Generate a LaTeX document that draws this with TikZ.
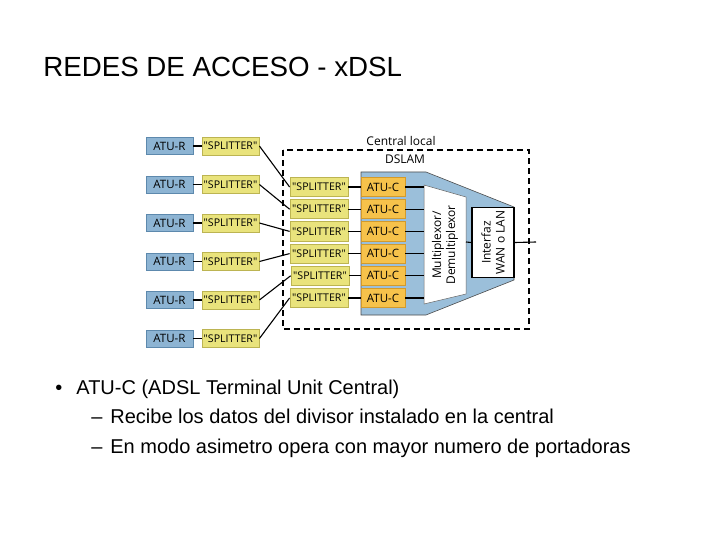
\documentclass[tikz,border=0pt]{standalone}
\usepackage{fontspec}
\setmainfont{Liberation Sans}
\newfontfamily\diagfont{Open Sans}
\definecolor{aturblue}{HTML}{8DB4D3}
\definecolor{aturdark}{HTML}{5D89AD}
\definecolor{splityellow}{HTML}{E9E37C}
\definecolor{splitdark}{HTML}{BCB452}
\definecolor{atucorange}{HTML}{F6C24B}
\definecolor{atucdark}{HTML}{D39A2A}
\definecolor{dslamblue}{HTML}{9BBFDA}
\tikzset{
every picture/.style={
line width=0.8pt
}}

\begin{document}
\begin{tikzpicture}[x=1pt, y=-1pt,
atur/.style = {rectangle, draw=aturdark, fill=aturblue, minimum width=47pt, minimum height=17pt, inner sep=0pt, font=\diagfont\fontsize{11.5}{13}\selectfont},
splitbox/.style = {rectangle, draw=splitdark, fill=splityellow, minimum width=57pt, minimum height=18pt, inner sep=0pt, font=\diagfont\fontsize{10.6}{12}\selectfont},
atuc/.style = {rectangle, draw=atucdark, fill=atucorange, minimum width=44pt, minimum height=19pt, inner sep=0pt, font=\diagfont\fontsize{11.5}{13}\selectfont},
wire/.style = {line width=1.1pt, black},
label/.style = {font=\diagfont\fontsize{12}{14}\selectfont},
bodytext/.style = {anchor=base west, inner sep=0pt, font=\fontsize{20}{24}\selectfont}]

\useasboundingbox (0,0) rectangle (720,540);

\node [anchor=base west, inner sep=0pt, font=\fontsize{27.7}{32}\selectfont] (title) at (43,77) {REDES DE ACCESO - xDSL};

% central local
\draw [dashed, line width=1.3pt, dash pattern=on 6pt off 4pt] (283,150) rectangle (529,329);
\node [label] (central) at (401,141) {Central local};
\node [label] (dslam) at (405,159) {DSLAM};

\draw [fill=dslamblue, draw=black!70, line width=0.6pt] (361,172) -- (426,172) -- (514,207)
-- (514,280) -- (426,315) -- (361,315) -- cycle;
\draw [fill=white, draw=black!60, line width=0.5pt] (424,185) -- (466,197) -- (466,294) -- (424,304) -- cycle;
\coordinate (muxl) at (424,245);
\coordinate (muxr) at (466,242);
\node [label, rotate=90, align=center, inner sep=0pt] (muxtext) at (445,245) {Multiplexor/\\Demultiplexor};

\node [draw=black, line width=1.4pt, fill=white, minimum width=42pt, minimum height=70pt, inner sep=0pt] (wan) at (493,242.5) {};
\node [label, rotate=90, align=center, inner sep=0pt] (wantext) at (wan) {Interfaz\\WAN o LAN};
\coordinate (out) at (536,242);

% abonados
\node [atur] (r1) at (169.5,146) {ATU-R};
\node [atur] (r2) at (169.5,184.5) {ATU-R};
\node [atur] (r3) at (169.5,223) {ATU-R};
\node [atur] (r4) at (169.5,261.5) {ATU-R};
\node [atur] (r5) at (169.5,300) {ATU-R};
\node [atur] (r6) at (169.5,338.5) {ATU-R};

\node [splitbox] (s1) at (230.5,146) {"SPLITTER"};
\node [splitbox] (s2) at (230.5,184.5) {"SPLITTER"};
\node [splitbox] (s3) at (230.5,223) {"SPLITTER"};
\node [splitbox] (s4) at (230.5,261.5) {"SPLITTER"};
\node [splitbox] (s5) at (230.5,300) {"SPLITTER"};
\node [splitbox] (s6) at (230.5,338.5) {"SPLITTER"};

\node [splitbox, minimum width=58pt, minimum height=19pt] (cs1) at (319,187) {"SPLITTER"};
\node [splitbox, minimum width=58pt, minimum height=19pt] (cs2) at (319,209.2) {"SPLITTER"};
\node [splitbox, minimum width=58pt, minimum height=19pt] (cs3) at (319,231.4) {"SPLITTER"};
\node [splitbox, minimum width=58pt, minimum height=19pt] (cs4) at (319,253.6) {"SPLITTER"};
\node [splitbox, minimum width=58pt, minimum height=19pt] (cs5) at (320,275.8) {"SPLITTER"};
\node [splitbox, minimum width=58pt, minimum height=19pt] (cs6) at (319,298) {"SPLITTER"};

\node [atuc] (c1) at (383,187) {ATU-C};
\node [atuc] (c2) at (383,209.2) {ATU-C};
\node [atuc] (c3) at (383,231.4) {ATU-C};
\node [atuc] (c4) at (383,253.6) {ATU-C};
\node [atuc] (c5) at (383,275.8) {ATU-C};
\node [atuc] (c6) at (383,298) {ATU-C};

\draw [wire] (r1) -- (s1); \draw [wire] (r2) -- (s2); \draw [wire] (r3) -- (s3);
\draw [wire] (r4) -- (s4); \draw [wire] (r5) -- (s5); \draw [wire] (r6) -- (s6);

\draw [wire] (s1.east) -- (cs1.west);
\draw [wire] (s2.east) -- (cs2.west);
\draw [wire] (s3.east) -- (cs3.west);
\draw [wire] (s4.east) -- (cs4.west);
\draw [wire] (s5.east) -- (cs5.west);
\draw [wire] (s6.east) -- (cs6.west);

\draw [wire] (cs1) -- (c1); \draw [wire] (cs2) -- (c2); \draw [wire] (cs3) -- (c3);
\draw [wire] (cs4) -- (c4); \draw [wire] (cs5) -- (c5); \draw [wire] (cs6) -- (c6);

\draw [wire] (c1.east) -- (c1.east -| muxl);
\draw [wire] (c2.east) -- (c2.east -| muxl);
\draw [wire] (c3.east) -- (c3.east -| muxl);
\draw [wire] (c4.east) -- (c4.east -| muxl);
\draw [wire] (c5.east) -- (c5.east -| muxl);
\draw [wire] (c6.east) -- (c6.east -| muxl);

\draw [wire] (muxr) -- (wan.west);
\draw [wire] (wan.east) -- (out);

% texto
\node [bodytext] (b1) at (55,394) {•};
\node [bodytext] (t1) at (76,394) {ATU-C (ADSL Terminal Unit Central)};
\node [bodytext] (d2) at (91,423.5) {–};
\node [bodytext] (t2) at (110,423.5) {Recibe los datos del divisor instalado en la central};
\node [bodytext] (d3) at (91,453) {–};
\node [bodytext] (t3) at (110,453) {En modo asimetro opera con mayor numero de portadoras};

\end{tikzpicture}
\end{document}
